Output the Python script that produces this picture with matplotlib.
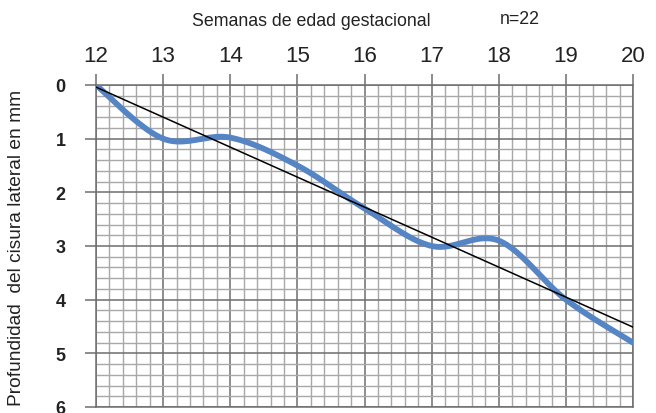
import numpy as np
import matplotlib
matplotlib.use("Agg")
import matplotlib.pyplot as plt
from matplotlib.ticker import MultipleLocator

weeks = [12, 13, 14, 15, 16, 17, 18, 19, 20]
depth = [0.0, 1.0, 0.98, 1.5, 2.3, 3.0, 2.9, 4.0, 4.8]
x_ticks = [12, 13, 14, 15, 16, 17, 18, 19, 20]
y_ticks = [0, 1, 2, 3, 4, 5, 6]
title_text = "Semanas de edad gestacional"
n_text = "n=22"
ylabel_text = "Profundidad  del cisura lateral en mm"

narrow = ['Liberation Sans Narrow', 'Liberation Sans', 'DejaVu Sans']
plain = ['Liberation Sans', 'DejaVu Sans']


def catmull_rom(xs, ys, n=40):
    xs = np.asarray(xs, float)
    ys = np.asarray(ys, float)
    px = np.concatenate([[xs[0]], xs, [xs[-1]]])
    py = np.concatenate([[ys[0]], ys, [ys[-1]]])
    outx, outy = [], []
    for i in range(1, len(px) - 2):
        t = np.linspace(0, 1, n)
        m0x = (px[i + 1] - px[i - 1]) / 2
        m1x = (px[i + 2] - px[i]) / 2
        m0y = (py[i + 1] - py[i - 1]) / 2
        m1y = (py[i + 2] - py[i]) / 2
        h00 = 2 * t**3 - 3 * t**2 + 1
        h10 = t**3 - 2 * t**2 + t
        h01 = -2 * t**3 + 3 * t**2
        h11 = t**3 - t**2
        outx.append(h00 * px[i] + h10 * m0x + h01 * px[i + 1] + h11 * m1x)
        outy.append(h00 * py[i] + h10 * m0y + h01 * py[i + 1] + h11 * m1y)
    return np.concatenate(outx), np.concatenate(outy)


fig = plt.figure(figsize=(6.56, 4.14), dpi=100)
ax = fig.add_axes([96 / 656, 1 - 408 / 414, (633 - 96) / 656, (408 - 86) / 414])

ax.set_xlim(12, 20)
ax.set_ylim(6, 0)

ax.xaxis.set_minor_locator(MultipleLocator(0.2))
ax.yaxis.set_minor_locator(MultipleLocator(0.2))
ax.set_xticks(x_ticks)
ax.set_yticks(y_ticks)

ax.grid(which='minor', color='#a8a8a8', lw=1.0)
ax.grid(which='major', color='#6e6e6e', lw=1.1)
ax.set_axisbelow(True)

for s in ax.spines.values():
    s.set_color('#6e6e6e')
    s.set_linewidth(1.1)

ax.xaxis.tick_top()
ax.tick_params(axis='x', which='major', direction='out', length=8, width=1.1,
               color='#6e6e6e', pad=6, labelsize=16, labelcolor='#222222')
ax.tick_params(axis='y', which='major', direction='out', length=8, width=1.1,
               color='#6e6e6e', pad=14, labelsize=13, labelcolor='#222222')
ax.tick_params(which='minor', length=0)
for lab in ax.get_xticklabels():
    lab.set_family(narrow)
for lab in ax.get_yticklabels():
    lab.set_family(plain)
    lab.set_fontweight('bold')

sx, sy = catmull_rom(weeks, depth)
ax.plot(sx, sy, color='#5585c5', lw=4.2, solid_capstyle='round', zorder=3)

coef = np.polyfit(weeks, depth, 1)
tx = np.array([weeks[0], weeks[-1]])
ax.plot(tx, np.polyval(coef, tx), color='black', lw=1.1, zorder=4)

fig.text(311 / 656, 1 - 21 / 414, title_text, ha='center', va='center',
         fontsize=12.8, family=narrow, color='#222222')
fig.text(520 / 656, 1 - 19 / 414, n_text, ha='center', va='center',
         fontsize=12.8, family=narrow, color='#222222')
fig.text(17 / 656, 1 - 248 / 414, ylabel_text, ha='center', va='center',
         rotation=90, fontsize=13.8, family=narrow, color='#222222')

fig.savefig('out.png', dpi=100)
